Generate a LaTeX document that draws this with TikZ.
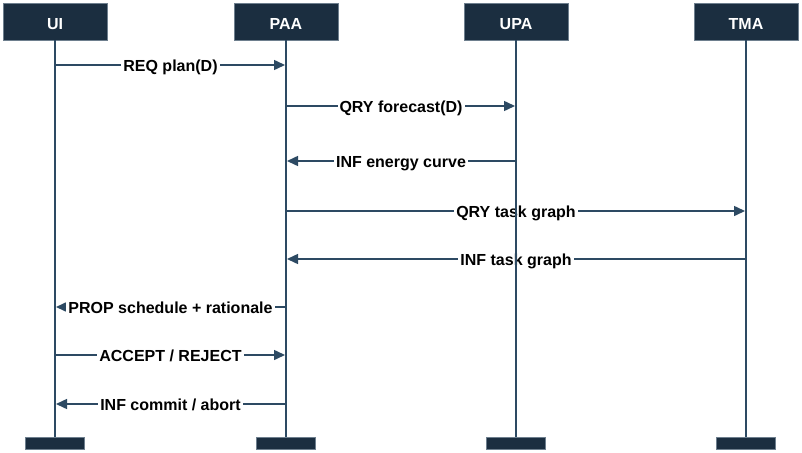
\documentclass[tikz,border=0pt]{standalone}
\usepackage{fontspec}
\setmainfont{Liberation Sans}
\usetikzlibrary{arrows.meta}

\definecolor{headfill}{HTML}{1B2E40}
\definecolor{headedge}{HTML}{6E7F8E}
\definecolor{linecol}{HTML}{2D4A63}

\begin{document}
\begin{tikzpicture}[x=1pt, y=-1pt,
    head/.style={rectangle, fill=headfill, draw=headedge, line width=0.8pt,
      minimum width=104pt, minimum height=37pt, inner sep=0pt,
      text height=16pt, text depth=0pt,
      text=white, font=\fontsize{16}{19}\selectfont\bfseries},
    foot/.style={rectangle, fill=headfill, draw=headedge, line width=0.6pt,
      minimum width=59pt, minimum height=12pt, inner sep=0pt},
    life/.style={linecol, line width=2pt},
    msg/.style={linecol, line width=1.5pt,
      -{Triangle[length=11pt,width=10pt]},
      shorten >=1pt, shorten <=1pt},
    lab/.style={fill=white, inner xsep=2pt, inner ysep=1pt,
      text height=13pt, text depth=0pt,
      text=black, font=\fontsize{16}{19}\selectfont\bfseries}]

\useasboundingbox (0,0) rectangle (802,452);

\def\HEADY{21.5}
\def\FOOTY{443.5}

% agents: heads and foot bars
\foreach \name/\txt/\x in {ui/UI/55, paa/PAA/286, upa/UPA/516, tma/TMA/746} {
    \node[head] (\name) at (\x,\HEADY) {\txt};
    \node[foot] (\name-end) at (\x,\FOOTY) {};
}

% messages
\foreach \y/\from/\to/\txt in {
    65/ui/paa/{REQ plan(D)},
    106/paa/upa/{QRY forecast(D)},
    161/upa/paa/{INF energy curve},
    211/paa/tma/{QRY task graph},
    259/tma/paa/{INF task graph},
    307/paa/ui/{PROP schedule + rationale},
    355/ui/paa/{ACCEPT / REJECT},
    404/paa/ui/{INF commit / abort}} {
    \draw[msg] (\from |- 0,\y) -- node[lab] {\txt} (\to |- 0,\y);
}

% lifelines on top
\foreach \name in {ui,paa,upa,tma} {
    \draw[life] (\name.south) -- (\name-end.north);
}

\end{tikzpicture}
\end{document}
